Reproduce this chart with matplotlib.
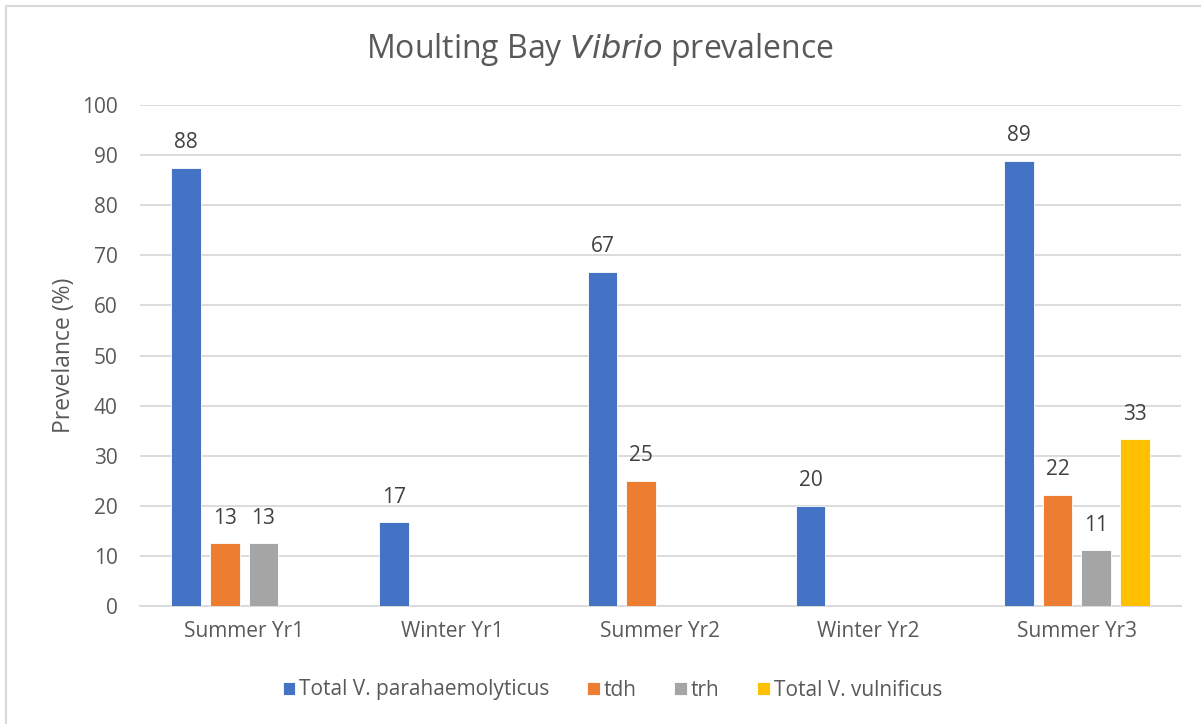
import numpy as np
import matplotlib.pyplot as plt
from matplotlib.lines import Line2D

plt.rcParams['font.family'] = ['Open Sans', 'DejaVu Sans']

categories = ['Summer Yr1', 'Winter Yr1', 'Summer Yr2', 'Winter Yr2', 'Summer Yr3']
series_names = ['Total V. parahaemolyticus', 'tdh', 'trh', 'Total V. vulnificus']
vp_total = [87.5, 16.7, 66.7, 20.0, 88.9]
tdh = [12.5, 0, 25.0, 0, 22.2]
trh = [12.5, 0, 0, 0, 11.1]
vv_total = [0, 0, 0, 0, 33.3]
colors = ['#4472C4', '#ED7D31', '#A5A5A5', '#FFC000']
yticks = list(range(0, 101, 10))

text_col = '#595959'
W, H = 1201, 724

fig = plt.figure(figsize=(W / 100, H / 100), dpi=100)
ax = fig.add_axes([140 / W, 118 / H, 1041 / W, 501 / H])

# chart-area frame: only the left and top edges survive in the crop
fig.add_artist(Line2D([6 / W, 6 / W], [0, 1 - 6 / H], transform=fig.transFigure,
                      color='#D9D9D9', linewidth=1.5))
fig.add_artist(Line2D([6 / W, 1], [1 - 6 / H, 1 - 6 / H], transform=fig.transFigure,
                      color='#D9D9D9', linewidth=1.5))

x = np.arange(len(categories))
width = 0.143
step = 0.186
all_series = [vp_total, tdh, trh, vv_total]
for i, (vals, name, col) in enumerate(zip(all_series, series_names, colors)):
    pos = x + (i - 1.5) * step
    bars = ax.bar(pos, vals, width, color=col, label=name, edgecolor='white',
                  linewidth=0.6, zorder=3)
    for b, v in zip(bars, vals):
        if v > 0:
            ax.text(b.get_x() + b.get_width() / 2, v + 5, f'{int(v + 0.5)}', ha='center',
                    va='center', fontsize=15, color='#404040')

ax.set_xlim(-0.5, len(categories) - 0.5)
ax.set_ylim(0, 100)
ax.set_yticks(yticks)
ax.set_xticks(x)
ax.set_xticklabels(categories)
ax.tick_params(axis='both', length=0, labelsize=15, colors=text_col)
ax.tick_params(axis='x', pad=11)
ax.tick_params(axis='y', pad=16)
ax.grid(axis='y', color='#D9D9D9', linewidth=1.3, zorder=0)
for side in ['top', 'right', 'left']:
    ax.spines[side].set_visible(False)
ax.spines['bottom'].set_color('#D9D9D9')
ax.spines['bottom'].set_linewidth(1.3)

ax.set_ylabel('Prevelance (%)', fontsize=16.5, color=text_col, labelpad=4)
fig.text(0.5, 1 - 50 / H, r'Moulting Bay $\mathit{Vibrio}$ prevalence', ha='center',
         va='center', fontsize=23, color=text_col)

ax.legend(loc='center', bbox_to_anchor=(0.51, 34 / H), bbox_transform=fig.transFigure,
          ncol=4, frameon=False, fontsize=15, labelcolor=text_col, handlelength=0.6,
          handleheight=0.6, handletextpad=0.2, columnspacing=1.8)

fig.savefig('out.png', dpi=100)
